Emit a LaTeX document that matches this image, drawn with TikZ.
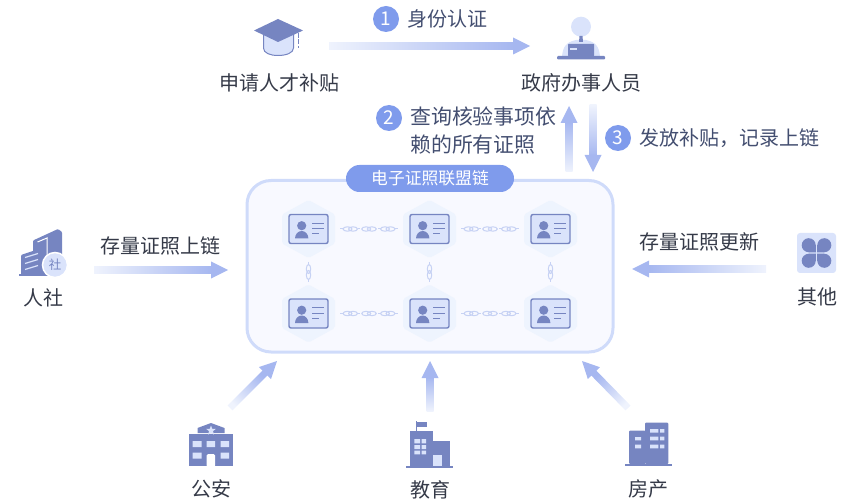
\documentclass[tikz,border=0pt]{standalone}
\usepackage{fontspec}
\setmainfont{Noto Sans CJK SC}
\usetikzlibrary{arrows.meta, calc, shapes.geometric}

\definecolor{iconblue}{HTML}{7685C1}
\definecolor{iconlight}{HTML}{DAE3FB}
\definecolor{flowblue}{HTML}{A6B7F0}
\definecolor{flowfade}{HTML}{EFF3FD}
\definecolor{stepblue}{HTML}{7F9BEC}
\definecolor{chainline}{HTML}{CFDBFA}
\definecolor{chainfill}{HTML}{F8F9FF}
\definecolor{hexfill}{HTML}{EEF4FE}
\definecolor{linkblue}{HTML}{C7D2F4}
\definecolor{labeltext}{HTML}{353A48}
\definecolor{steptext}{HTML}{434E70}

\tikzset{
	namelabel/.style={text=labeltext,inner sep=0pt,font=\fontsize{20}{24}\selectfont},
	steplabel/.style={text=steptext,inner sep=0pt,font=\fontsize{20}{24}\selectfont},
	stepcircle/.style={circle,fill=stepblue,text=white,minimum size=26pt,inner sep=0pt,font=\fontsize{19}{24}\selectfont},
	iconfill/.style={fill=iconblue,draw=none},
	iconwin/.style={fill=iconlight,draw=none},
	idcard/.pic={
		\fill[hexfill,rounded corners=2pt] (0,-29)--(26.5,-14.5)--(26.5,14.5)--(0,29)--(-26.5,14.5)--(-26.5,-14.5)--cycle;
		\draw[draw=iconblue,fill=iconlight,line width=1.4pt,rounded corners=2pt] (-19.5,-14.5) rectangle (19.5,14.5);
		\fill[iconblue] (-6.8,-3.3) circle (4.6);
		\fill[iconblue] (-13.5,9.5) arc[start angle=180,end angle=360,x radius=6.7,y radius=7.5]--cycle;
		\draw[iconblue,line width=1.1pt] (3.5,-5.8)--(15.5,-5.8);
		\draw[iconblue,line width=1.1pt] (3.5,-0.3)--(15.5,-0.3);
		\draw[iconblue,line width=1.1pt] (3.5,4.7)--(10.5,4.7);
	},
	chainh/.pic={
		\draw[linkblue,line width=1pt] (-29,0)--(-26,0) (-11.5,0)--(-9,0) (9,0)--(11.5,0) (26,0)--(29,0);
		\draw[linkblue,line width=1pt] (-21.5,0) ellipse (4.5 and 2.2) (-16,0) ellipse (4.5 and 2.2);
		\draw[linkblue,line width=1pt] (-2.8,0) ellipse (4.5 and 2.2) (2.8,0) ellipse (4.5 and 2.2);
		\draw[linkblue,line width=1pt] (16,0) ellipse (4.5 and 2.2) (21.5,0) ellipse (4.5 and 2.2);
	},
	chainv/.pic={
		\draw[linkblue,line width=1pt] (0,-10)--(0,-7.5) (0,7.5)--(0,10);
		\draw[linkblue,line width=1pt] (0,-3) ellipse (2.2 and 4.5) (0,3) ellipse (2.2 and 4.5);
	},
}

\newcommand{\flowarrow}[2]{%
	\pgfmathanglebetweenpoints{\pgfpointanchor{#1}{center}}{\pgfpointanchor{#2}{center}}%
	\pgfmathsetmacro{\flowang}{\pgfmathresult}%
	\pgfmathsetmacro{\flowshade}{\flowang-90}%
	\path let \p1=($(#2)-(#1)$),\n1={veclen(\x1,\y1)} in \pgfextra{\xdef\flowlen{\n1}};
	\begin{scope}[shift={(#1)},rotate=\flowang]
		\shade[top color=flowblue,bottom color=flowfade,shading angle=\flowshade] (0pt,-3.5pt)--(\flowlen-16pt,-3.5pt)--(\flowlen-16pt,3.5pt)--(0pt,3.5pt)--cycle;
		\fill[flowblue] (\flowlen-17pt,-8.5pt)--(\flowlen,0pt)--(\flowlen-17pt,8.5pt)--cycle;
	\end{scope}
}

\begin{document}
\begin{tikzpicture}[x=1pt,y=-1pt]
	\useasboundingbox (0,0) rectangle (850,502);
	
	\coordinate (A1)  at (329,46);
	\coordinate (A1d) at (530,46);
	\coordinate (A2)  at (569,172);
	\coordinate (A2d) at (569,106);
	\coordinate (A3)  at (593,105);
	\coordinate (A3d) at (593,172);
	\coordinate (AL)  at (94,270);
	\coordinate (ALd) at (228,270);
	\coordinate (AR)  at (766,269);
	\coordinate (ARd) at (632,269);
	\coordinate (B1)  at (230,408);
	\coordinate (B1d) at (277,361);
	\coordinate (B2)  at (430,411);
	\coordinate (B2d) at (430,361);
	\coordinate (B3)  at (628,408);
	\coordinate (B3d) at (582,361);
	
	\coordinate (C11) at (308.5,229);
	\coordinate (C12) at (429.5,229);
	\coordinate (C13) at (550.5,229);
	\coordinate (C21) at (308.5,313.5);
	\coordinate (C22) at (429.5,313.5);
	\coordinate (C23) at (550.5,313.5);
	
	\flowarrow{A1}{A1d}
	\flowarrow{A2}{A2d}
	\flowarrow{A3}{A3d}
	\flowarrow{AL}{ALd}
	\flowarrow{AR}{ARd}
	\flowarrow{B1}{B1d}
	\flowarrow{B2}{B2d}
	\flowarrow{B3}{B3d}
	
	\draw[draw=chainline,fill=chainfill,line width=3pt,rounded corners=24pt] (247,180.5) rectangle (613,352);
	\node[fill=stepblue,text=white,rounded corners=13.5pt,minimum width=168pt,minimum height=27pt,inner sep=0pt,font=\fontsize{16.8}{20}\selectfont] (chainname) at (430,178.5) {电子证照联盟链};
	
	\pic at (C11) {idcard};
	\pic at (C12) {idcard};
	\pic at (C13) {idcard};
	\pic at (C21) {idcard};
	\pic at (C22) {idcard};
	\pic at (C23) {idcard};
	
	\pic at ($(C11)!.5!(C12)$) {chainh};
	\pic at ($(C12)!.5!(C13)$) {chainh};
	\pic at ($(C21)!.5!(C22)$) {chainh};
	\pic at ($(C22)!.5!(C23)$) {chainh};
	\pic at (308.5,272) {chainv};
	\pic at (429.5,272) {chainv};
	\pic at (550.5,272) {chainv};
	
	\node[stepcircle] (n1) at (386,19) {1};
	\node[stepcircle] (n2) at (389,118) {2};
	\node[stepcircle] (n3) at (618,138) {3};
	\node[steplabel,anchor=west] (t1) at (407,19) {身份认证};
	\node[steplabel,anchor=north west,align=left,font=\fontsize{20.9}{27.5}\selectfont] (t2) at (410,107) {查询核验事项依\\赖的所有证照};
	\node[steplabel,anchor=west] (t3) at (639,138) {发放补贴，记录上链};
	\node[steplabel,text=labeltext] (t4) at (160.5,246) {存量证照上链};
	\node[steplabel,text=labeltext] (t5) at (699,242) {存量证照更新};
	
	\node[namelabel] (apply) at (279,83) {申请人才补贴};
	\node[namelabel] (clerk) at (581,83) {政府办事人员};
	\node[namelabel] (social) at (43,298) {人社};
	\node[namelabel] (other) at (817,297) {其他};
	\node[namelabel] (police) at (211,489) {公安};
	\node[namelabel] (school) at (430,490) {教育};
	\node[namelabel] (house) at (648,489) {房产};
	
	\draw[iconblue,fill=iconlight,line width=1pt] (263.5,32)--(263.5,48) .. controls (263.5,53) and (270,55.5) .. (278,55.5) .. controls (286,55.5) and (293.5,53) .. (293.5,48)--(293.5,32)--cycle;
	\fill[iconblue] (278,19)--(303,30.5)--(278,42)--(254,30.5)--cycle;
	\draw[iconblue,line width=1pt,dash pattern=on 5pt off 1.5pt] (298.5,33)--(298.5,48);
	
	\fill[iconlight] (581,26.7) circle (10);
	\fill[iconlight] (562,56) .. controls (563,47) and (566,42) .. (576,40)--(586,40) .. controls (596,42) and (599,47) .. (600,56)--cycle;
	\fill[iconblue] (579.5,36)--(582.5,36)--(583,42)--(579,42)--cycle;
	\fill[iconblue,rounded corners=0.5pt] (568,44) rectangle (594,56);
	\fill[iconlight] (570,48) rectangle (577,50);
	\fill[iconblue,rounded corners=1pt] (557,56) rectangle (605,59.5);
	
	\fill[iconblue,rounded corners=1pt] (33,275)--(33,240.5)--(58,229)--(62,232)--(62,275)--cycle;
	\draw[white,line width=1pt] (37.5,242)--(47,238)--(47,256);
	\fill[iconblue,rounded corners=1pt] (21,275)--(21,255)--(42,248)--(43,275)--cycle;
	\draw[iconlight,line width=1.2pt] (25,257.5)--(38,253.5) (25,263.5)--(38,259.5) (25,269.5)--(38,265.5);
	\fill[iconblue] (19,274.5) rectangle (50,276);
	\draw[white,fill=iconlight,line width=1.5pt] (55,265) circle (12.5);
	\node[text=iconblue,inner sep=0pt,font=\fontsize{12.5}{14}\selectfont] (socialmark) at (55,265) {社};
	
	\fill[iconlight,rounded corners=3pt] (797,233) rectangle (836,273);
	\fill[iconblue] (808.7,245.2) circle (7) (824.3,245.2) circle (7) (808.7,260.8) circle (7) (824.3,260.8) circle (7);
	\fill[iconblue] (808.7,245.2) rectangle (815.9,252.4) (817.1,245.2) rectangle (824.3,252.4) (808.7,253.6) rectangle (815.9,260.8) (817.1,253.6) rectangle (824.3,260.8);
	
	\fill[iconblue] (197.5,433)--(197.5,428)--(211,423)--(224.5,428)--(224.5,433)--cycle;
	\fill[iconblue] (189,433.5) rectangle (233,466);
	\node[star,star points=5,star point ratio=2.4,fill=iconlight,minimum size=10pt,inner sep=0pt] (policestar) at (211,430.5) {};
	\fill[iconwin] (192.7,441) rectangle (201.7,447) (206.7,441) rectangle (215,447) (220.7,441) rectangle (229,447);
	\fill[iconwin] (192.7,452.5) rectangle (201.7,458.5) (220.7,452.5) rectangle (229,458.5);
	\fill[white,rounded corners=1.5pt] (206.7,467)--(206.7,454)--(215,454)--(215,467)--cycle;
	
	\fill[iconblue] (410,431) rectangle (433,466);
	\fill[iconblue] (433,441) rectangle (449.5,466);
	\fill[iconblue] (416,421) rectangle (417.2,431);
	\fill[iconblue] (417,421.5) rectangle (426.5,426.5);
	\fill[iconblue] (406,466.3) rectangle (453,468);
	\fill[iconwin] (414.3,439) rectangle (420,443.3) (421.7,439) rectangle (426,443.3);
	\fill[iconwin] (414.3,445) rectangle (420,449) (421.7,445) rectangle (426,449);
	\fill[iconwin] (414.3,450.7) rectangle (420,454.3) (421.7,450.7) rectangle (426,454.3);
	\fill[iconwin] (433,455) rectangle (441.7,466);
	
	\fill[iconblue,rounded corners=1pt] (629,464) rectangle (645.5,430.7);
	\fill[iconblue,rounded corners=1pt] (645,464) rectangle (668.3,422.7);
	\fill[iconblue] (625,464) rectangle (671.7,466);
	\fill[iconwin] (635,437) rectangle (641,440.3) (635,444.7) rectangle (641,448.3);
	\fill[iconwin] (650,429) rectangle (658.3,432.7) (660,429) rectangle (664.3,432.7);
	\fill[iconwin] (650,436.7) rectangle (658.3,440.3) (660,436.7) rectangle (664.3,440.3);
	\fill[iconwin] (650,444.7) rectangle (658.3,448.3) (660,444.7) rectangle (664.3,448.3);
\end{tikzpicture}
\end{document}
